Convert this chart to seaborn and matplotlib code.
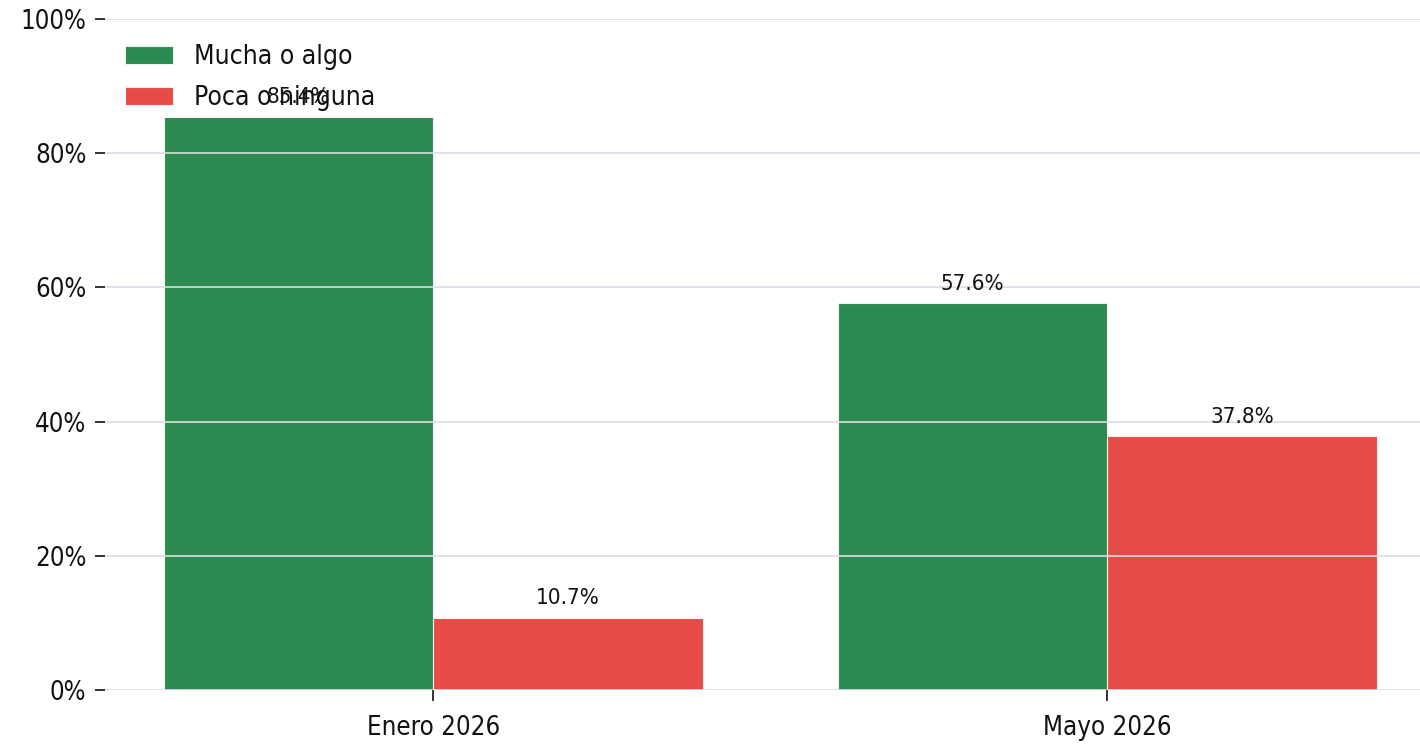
import pandas as pd
import matplotlib.pyplot as plt
import seaborn as sns
from matplotlib.ticker import PercentFormatter

periods = ['Enero 2026', 'Mayo 2026']
groups = ['Mucha o algo', 'Poca o ninguna']
mucha = [85.4, 57.6]
poca = [10.7, 37.8]
colors = ['#2a8a4f', '#e64b45']

df = pd.DataFrame({
    'periodo': periods * 2,
    'grupo': [groups[0]] * 2 + [groups[1]] * 2,
    'valor': mucha + poca,
})

sns.set_style('white')
plt.rcParams['font.family'] = ['DejaVu Sans']
plt.rcParams['font.stretch'] = 'condensed'
plt.rcParams['text.color'] = '#111111'

fig = plt.figure(figsize=(14.2, 7.44), dpi=100)
ax = fig.add_axes([0.074, 0.0726, 0.926, 0.9019])

sns.barplot(data=df, x='periodo', y='valor', hue='grupo', palette=colors,
            hue_order=groups, order=periods, ax=ax, width=0.8, saturation=1,
            edgecolor='#f0f0f0', linewidth=0.8, zorder=1)

for c in ax.containers:
    ax.bar_label(c, fmt='%.1f%%', padding=7, fontsize=16, color='#111111')

ax.set_ylim(0, 100)
ax.set_xlim(-0.487, 1.464)
ax.yaxis.set_major_formatter(PercentFormatter(decimals=0))
ax.set_yticks([0, 20, 40, 60, 80, 100])
ax.grid(axis='y', color='#dcdce6', linewidth=1.2, zorder=2)
ax.set_axisbelow(False)
ax.set_xlabel('')
ax.set_ylabel('')
sns.despine(ax=ax, left=True, bottom=True, top=True, right=True)
ax.tick_params(axis='y', left=True, length=7, width=1.2, pad=6.5, labelsize=18.5,
               colors='#111111')
ax.tick_params(axis='x', bottom=True, length=8, width=1.2, pad=10, labelsize=18.5,
               colors='#111111')

ax.legend(loc='upper left', bbox_to_anchor=(20 / 1315, 1 - 25 / 671), frameon=False,
          fontsize=19, handlelength=1.8, handleheight=0.7, labelspacing=0.58,
          handletextpad=0.8, borderaxespad=0, borderpad=0)

plt.savefig('out.png', dpi=100)
